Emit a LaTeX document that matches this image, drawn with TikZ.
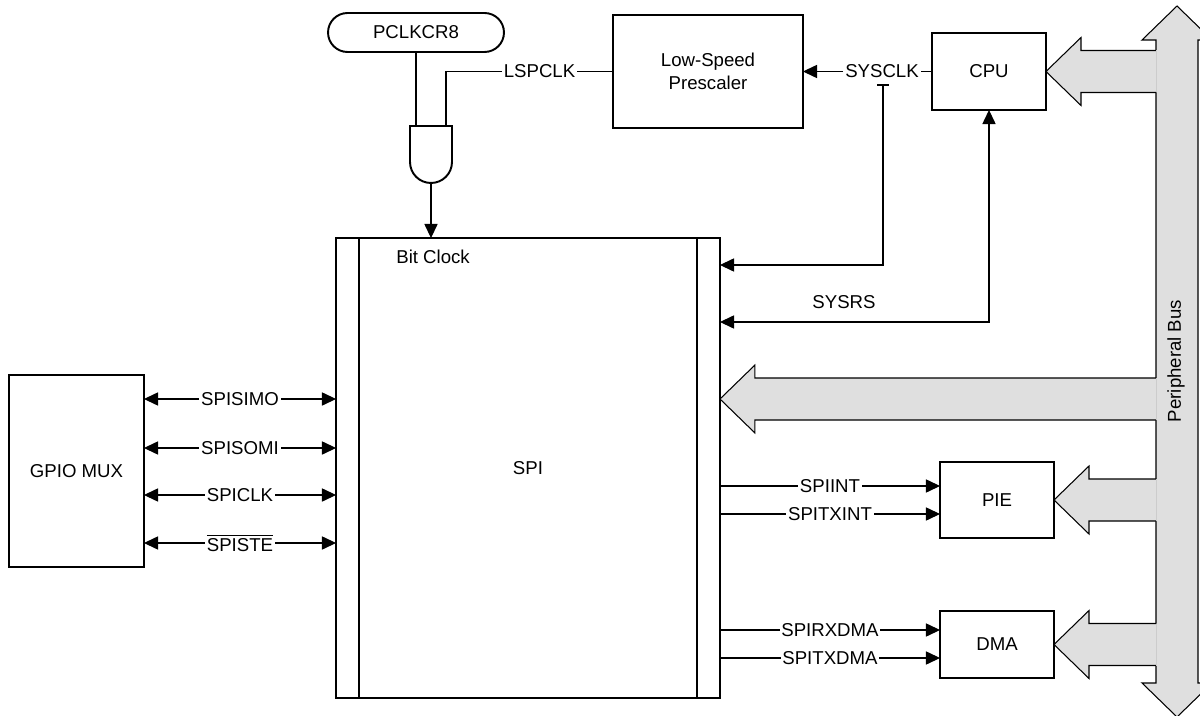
\documentclass[tikz,border=0pt]{standalone}
\usepackage{fontspec}
\setmainfont{Liberation Sans}
\usetikzlibrary{arrows.meta,calc,shapes.misc}
\definecolor{busgray}{HTML}{DFDFDF}
\tikzset{Tri/.tip={Triangle[length=8pt,width=7.5pt]}}
\newcommand\busarrow[1]{%
  \coordinate (bt) at (#1);
  \coordinate (ha) at ($(bt)+(35,-34)$);
  \coordinate (sa) at ($(bt)+(35,-21)$);
  \coordinate (sb) at ($(bt)+(35,21)$);
  \coordinate (hb) at ($(bt)+(35,34)$);
  \fill[busgray] (bt) -- (ha) -- (sa) -- (sa -| busf) -- (sb -| busf) -- (sb) -- (hb) -- cycle;
  \draw[busline] (sa -| bus) -- (sa) -- (ha) -- (bt) -- (hb) -- (sb) -- (sb -| bus);
  \draw[gray!40, line width=0.5pt] (sa -| bus) -- (sb -| bus);
}
\begin{document}
\begin{tikzpicture}[x=0.02cm,y=-0.02cm,
  font=\fontsize{10.6}{12.8}\selectfont,
  box/.style={draw, line width=1.1pt, outer sep=0pt, inner sep=0pt, align=center},
  conn/.style={line width=0.6pt},
  lab/.style={fill=white, inner sep=1pt},
  busline/.style={line width=0.6pt},
]
\useasboundingbox (0,0) rectangle (1200,716);
\clip (0,0) rectangle (1200,716);

% blocks
\node[box, rounded rectangle, minimum width=3.52cm, minimum height=0.78cm] (pclk) at (416,32.5) {PCLKCR8};
\node[box, minimum width=3.8cm, minimum height=2.26cm] (lsp) at (708,71.5) {Low-Speed\\Prescaler};
\node[box, minimum width=2.28cm, minimum height=1.54cm] (cpu) at (989,71.5) {CPU};
\node[box, minimum width=7.68cm, minimum height=9.2cm] (spi) at (528,468) {SPI};
\node[box, minimum width=2.7cm, minimum height=3.84cm] (gpio) at (76.5,471) {GPIO MUX};
\node[box, minimum width=2.28cm, minimum height=1.52cm] (pie) at (997,500) {PIE};
\node[box, minimum width=2.28cm, minimum height=1.34cm] (dma) at (997,644.5) {DMA};
\draw[line width=1.1pt] ([xshift=0.46cm]spi.north west) -- ([xshift=0.46cm]spi.south west);
\draw[line width=1.1pt] ([xshift=-0.46cm]spi.north east) -- ([xshift=-0.46cm]spi.south east);
\node[anchor=west, inner sep=0pt] (bitclk) at (396,257) {Bit Clock};

% AND gate
\draw[line width=1.1pt] (410,126) -- (410,162) arc[start angle=180, end angle=360, radius=0.42cm] -- (452,126) -- cycle;
\coordinate (gin1) at (416,126);
\coordinate (gin2) at (446,126);
\coordinate (gout) at (431,183);

% clock connections
\draw[conn] (pclk.south) -- (gin1);
\draw[conn] (lsp.west) -- node[lab, pos=0.44]{LSPCLK} (gin2 |- lsp.west) -- (gin2);
\draw[conn, -Tri] (gout) -- (gout |- spi.north);
\node[inner sep=1pt] (sysclk) at (882,71.5) {SYSCLK};
\draw[conn, -Tri] (sysclk) -- (lsp.east);
\draw[conn] (cpu.west) -- (sysclk);
\coordinate (tk) at (883,85);
\coordinate (sysclkin) at (spi.east |- 0,265);
\draw[conn] ([xshift=-0.12cm]tk) -- ([xshift=0.12cm]tk);
\draw[conn, -Tri] (tk) -- (tk |- sysclkin) -- (sysclkin);
\coordinate (rsin) at (spi.east |- 0,322);
\draw[conn, Tri-Tri] (rsin) -- (cpu.south |- rsin) -- (cpu.south);
\node (sysrs) at (844,302) {SYSRS};

% GPIO signals
\foreach \y/\t in {399/SPISIMO, 448/SPISOMI, 495/SPICLK, 543/{$\overline{\mbox{SPISTE}}$}}{
  \draw[conn, Tri-Tri] (gpio.east |- 0,\y) -- node[lab]{\t} (spi.west |- 0,\y);
}
% interrupt / DMA signals
\foreach \y/\t in {486/SPIINT, 514/SPITXINT}{
  \draw[conn, -Tri] (spi.east |- 0,\y) -- node[lab]{\t} (pie.west |- 0,\y);
}
\foreach \y/\t in {630/SPIRXDMA, 658/SPITXDMA}{
  \draw[conn, -Tri] (spi.east |- 0,\y) -- node[lab]{\t} (dma.west |- 0,\y);
}

% peripheral bus
\coordinate (bus) at (1156,0);
\coordinate (busf) at (1157.6,0);
\filldraw[busline, fill=busgray] (1177,6) -- (1212,40) -- (1198,40) -- (1198,683) -- (1212,683) -- (1177,717) -- (1142,683) -- (1156,683) -- (1156,40) -- (1142,40) -- cycle;
\coordinate (spitip) at (spi.east |- 0,399);
\busarrow{cpu.east}
\busarrow{spitip}
\busarrow{pie.east}
\busarrow{dma.east}
\node[rotate=90] (buslabel) at (1176,361) {Peripheral Bus};
\end{tikzpicture}
\end{document}
